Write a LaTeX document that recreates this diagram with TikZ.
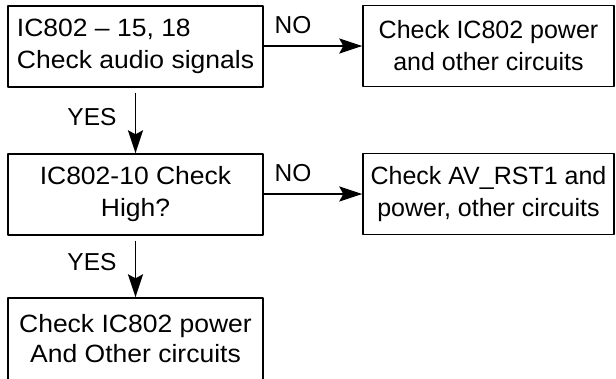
\documentclass[tikz,border=0pt]{standalone}
\usepackage{fontspec}
\setmainfont{Liberation Sans}
\newfontfamily\widesans[FakeStretch=1.06, Ligatures=TeX]{Liberation Sans}
\usetikzlibrary{arrows.meta}

\begin{document}
\begin{tikzpicture}[x=1pt, y=-1pt, line join=round, >={Stealth[length=23pt, width=15pt, inset=4pt]},
		box/.style={draw, line width=1.4pt, inner sep=0pt, minimum height=81pt, align=center},
		leftbox/.style={box, minimum width=255pt, font=\widesans\fontsize{25}{32}\selectfont},
		rightbox/.style={box, minimum width=251pt, font=\fontsize{25}{32}\selectfont},
		flow/.style={->, line width=1.8pt},
		answer/.style={inner sep=0pt, font=\fontsize{24.5}{28}\selectfont}]
		\useasboundingbox (0,0) rectangle (616,378);
		% left column
		\node[leftbox, align=left] (audio) at (135.5,46.5) {IC802 – 15, 18\\Check audio signals};
		\node[leftbox] (high) at (135.5,194.5) {IC802-10 Check\\High?};
		\node[leftbox, minimum height=82pt, font=\widesans\fontsize{25}{30}\selectfont] (power) at (135.5,339) {Check IC802 power\\And Other circuits};
		% right column
		\node[rightbox] (other) at (488.5,46) {Check IC802 power\\and other circuits};
		\node[rightbox] (reset) at (488.5,194) {Check AV\_RST1 and\\power, other circuits};
		% connectors
		\draw[flow] (audio.east |- other.west) -- (other.west);
		\draw[flow] (high.east |- reset.west) -- (reset.west);
		\draw[flow, shorten <=5pt] (audio.south) -- (high.north);
		\draw[flow, shorten <=5pt] (high.south) -- (power.north);
		% answers
		\node[answer] (noA) at (293,25) {NO};
		\node[answer] (noB) at (293,173) {NO};
		\node[answer] (yesA) at (92,117) {YES};
		\node[answer] (yesB) at (92,262) {YES};
	\end{tikzpicture}
\end{document}
